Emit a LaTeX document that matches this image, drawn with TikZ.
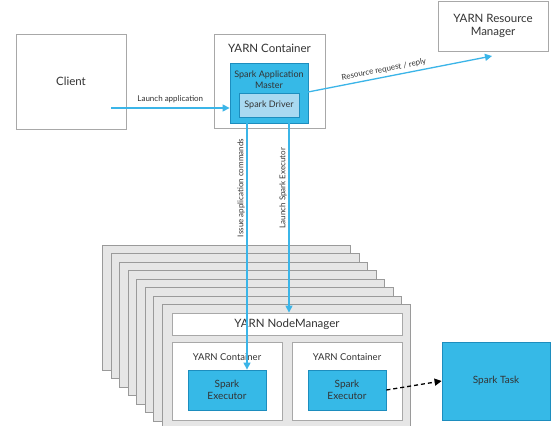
\documentclass[tikz,border=0pt]{standalone}
\usepackage{fontspec}
\setmainfont{Lato}
\usetikzlibrary{arrows.meta}
\definecolor{sblue}{HTML}{36B9E7}
\definecolor{sbluedark}{HTML}{1D8DBE}
\definecolor{slight}{HTML}{A9D9F1}
\definecolor{arrowblue}{HTML}{3BB5E8}
\definecolor{boxgray}{HTML}{A8A8A8}
\definecolor{stackfill}{HTML}{E6E6E6}
\definecolor{stackline}{HTML}{9A9A9A}
\definecolor{txt}{HTML}{333333}
\begin{document}
\begin{tikzpicture}[x=1pt,y=-1pt,
  every node/.style={text=txt, inner sep=0pt, align=center},
  plainbox/.style={draw=boxgray, fill=white, line width=0.8pt},
  stackbox/.style={draw=stackline, fill=stackfill, line width=0.8pt},
  bluebox/.style={draw=sbluedark, fill=sblue, line width=0.8pt},
  drvbox/.style={draw=sbluedark, fill=slight, line width=0.8pt},
  bigtxt/.style={font=\fontsize{11.5}{13}\selectfont},
  midtxt/.style={font=\fontsize{9}{11}\selectfont},
  exetxt/.style={font=\fontsize{10}{12.5}\selectfont},
  smalltxt/.style={font=\fontsize{8}{9.5}\selectfont},
  conn/.style={draw=arrowblue, line width=1.3pt, -{Triangle[length=7pt,width=7pt]}},
  dconn/.style={draw=black, line width=1.3pt, dash pattern=on 4pt off 3pt, -{Triangle[length=7pt,width=7pt]}}
]
\useasboundingbox (0,0) rectangle (555,426);
\fill[white] (0,0) rectangle (555,426);

% top row
\node[plainbox, minimum width=110pt, minimum height=95pt, bigtxt] (client) at (71,81.5) {Client};
\node[plainbox, minimum width=111pt, minimum height=94pt] (ycont) at (269.5,81) {};
\node[bigtxt] (yconttxt) at (269.5,48) {YARN Container};
\node[bluebox, minimum width=78pt, minimum height=60pt] (am) at (269,93) {};
\node[midtxt] (amtxt) at (269,80) {Spark Application\\Master};
\node[drvbox, minimum width=60pt, minimum height=24pt, midtxt] (drv) at (269,105) {Spark Driver};
\node[plainbox, minimum width=110pt, minimum height=50pt, bigtxt] (rm) at (493,26) {YARN Resource\\Manager};

% stacked node managers
\foreach \i in {0,...,7}{
  \pgfmathsetmacro{\lx}{102+\i*60/7}
  \pgfmathsetmacro{\ty}{245+\i*59/7}
  \node[stackbox, minimum width=248pt, minimum height=125pt, anchor=north west] (stack\i) at (\lx,\ty) {};
}
\node[plainbox, minimum width=230pt, minimum height=22pt, font=\fontsize{11.5}{13}\selectfont] (nm) at (287,324) {YARN NodeManager};
\node[plainbox, minimum width=110pt, minimum height=78pt] (c1) at (227,381) {};
\node[plainbox, minimum width=110pt, minimum height=78pt] (c2) at (347,381) {};
\node[exetxt, font=\fontsize{9.5}{11}\selectfont] (c1txt) at (227,357) {YARN Container};
\node[exetxt, font=\fontsize{9.5}{11}\selectfont] (c2txt) at (347,357) {YARN Container};
\node[bluebox, minimum width=78pt, minimum height=40pt, exetxt] (e1) at (227,390) {Spark\\Executor};
\node[bluebox, minimum width=78pt, minimum height=40pt, exetxt] (e2) at (347,390) {Spark\\Executor};
\node[bluebox, minimum width=108pt, minimum height=78pt, exetxt] (task) at (496,381) {Spark Task};

% connectors
\coordinate (ls) at (111,108);
\coordinate (rmtip) at (492,56);
\coordinate (amr) at (308,92);
\draw[conn] (ls) -- (ls -| am.west) node[midway, above=4pt, smalltxt] (lalbl) {Launch application};
\draw[conn] (amr) -- (rmtip) node[pos=0.42, sloped, above=3pt, smalltxt] (rrlbl) {Resource request / reply};
\coordinate (a1) at (247,123);
\coordinate (a2) at (289,123);
\draw[conn] (a1) -- (a1 |- e1.north);
\draw[conn] (a2) -- (a2 |- nm.north);
\node[smalltxt, rotate=90] (iaclbl) at (241,188) {Issue application commands};
\node[smalltxt, rotate=90] (lselbl) at (283,188) {Launch Spark Executor};
\draw[dconn] (e2.east) -- (task.west);
\end{tikzpicture}
\end{document}
